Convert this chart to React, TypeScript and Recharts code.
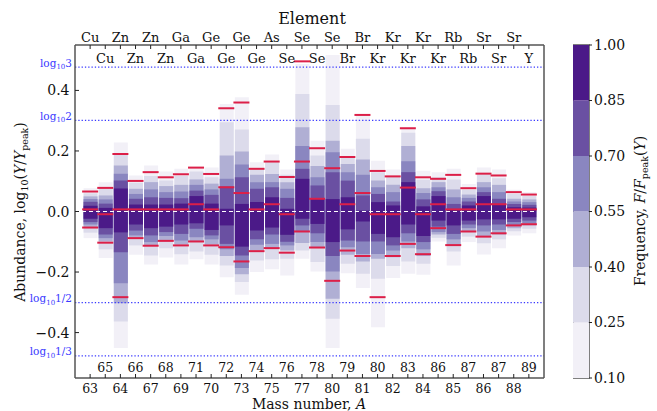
// App.tsx
// Abundance spread per isotope, banded by frequency, with element / mass axes and a colorbar.
import {
  ComposedChart, Bar, Scatter, XAxis, YAxis, ReferenceLine, ReferenceArea,
} from "recharts";

const FONT = '"DejaVu Serif", "Liberation Serif", serif';
const FRAME = "#555";
const RED = "#dc1f48";

const masses = [63, 65, 64, 66, 67, 68, 69, 71, 70, 72, 73, 74, 75, 76, 77, 78, 80, 79, 81, 80, 82, 83, 84, 86, 85, 87, 86, 87, 88, 89];
const elements = ["Cu", "Cu", "Zn", "Zn", "Zn", "Zn", "Ga", "Ga", "Ge", "Ge", "Ge", "Ge", "As", "Se", "Se", "Se", "Se", "Br", "Br", "Kr", "Kr", "Kr", "Kr", "Kr", "Rb", "Rb", "Sr", "Sr", "Sr", "Y"];
const yTicks = [-0.4, -0.2, 0, 0.2, 0.4];

// upper / lower edge of each frequency band (F/Fpeak >= level)
const upper10 = [0.077, 0.097, 0.228, 0.119, 0.152, 0.132, 0.141, 0.147, 0.145, 0.355, 0.377, 0.163, 0.188, 0.139, 0.487, 0.234, 0.517, 0.207, 0.319, 0.168, 0.139, 0.278, 0.135, 0.130, 0.141, 0.091, 0.145, 0.139, 0.072, 0.064];
const upper25 = [0.060, 0.077, 0.190, 0.095, 0.117, 0.102, 0.117, 0.132, 0.113, 0.295, 0.271, 0.143, 0.163, 0.121, 0.388, 0.185, 0.352, 0.179, 0.240, 0.130, 0.117, 0.260, 0.105, 0.113, 0.106, 0.072, 0.127, 0.110, 0.058, 0.051];
const upper40 = [0.050, 0.053, 0.152, 0.075, 0.097, 0.084, 0.088, 0.106, 0.092, 0.185, 0.198, 0.121, 0.124, 0.097, 0.278, 0.150, 0.234, 0.157, 0.172, 0.102, 0.088, 0.216, 0.077, 0.097, 0.073, 0.056, 0.097, 0.088, 0.042, 0.040];
const upper55 = [0.041, 0.040, 0.125, 0.058, 0.073, 0.064, 0.066, 0.088, 0.073, 0.108, 0.155, 0.097, 0.097, 0.075, 0.216, 0.113, 0.196, 0.130, 0.121, 0.080, 0.064, 0.166, 0.061, 0.080, 0.047, 0.045, 0.080, 0.064, 0.033, 0.031];
const upper70 = [0.032, 0.026, 0.102, 0.042, 0.047, 0.045, 0.044, 0.069, 0.055, 0.083, 0.113, 0.075, 0.080, 0.045, 0.141, 0.086, 0.130, 0.102, 0.053, 0.058, 0.033, 0.130, 0.040, 0.067, 0.025, 0.033, 0.064, 0.042, 0.025, 0.022];
const upper85 = [0.019, 0.012, 0.076, 0.023, 0.023, 0.023, 0.026, 0.051, 0.026, 0.009, 0.025, 0.031, 0.047, 0.009, 0.108, 0.042, 0.041, 0.047, 0.003, 0.031, 0.020, 0.097, 0.017, 0.051, 0.007, 0.020, 0.051, 0.025, 0.014, 0.013];
const lower85 = [-0.024, -0.055, -0.069, -0.043, -0.055, -0.050, -0.043, -0.039, -0.061, -0.046, -0.116, -0.063, -0.053, -0.077, -0.024, -0.041, -0.101, -0.059, -0.033, -0.074, -0.085, -0.043, -0.081, -0.030, -0.046, -0.030, -0.026, -0.026, -0.024, -0.019];
const lower70 = [-0.035, -0.076, -0.135, -0.063, -0.079, -0.068, -0.074, -0.057, -0.079, -0.107, -0.145, -0.092, -0.076, -0.100, -0.046, -0.072, -0.147, -0.096, -0.099, -0.099, -0.112, -0.072, -0.101, -0.050, -0.074, -0.043, -0.046, -0.043, -0.035, -0.030];
const lower55 = [-0.043, -0.088, -0.237, -0.079, -0.101, -0.081, -0.096, -0.085, -0.092, -0.125, -0.187, -0.110, -0.107, -0.112, -0.068, -0.101, -0.198, -0.118, -0.140, -0.140, -0.129, -0.099, -0.125, -0.068, -0.092, -0.055, -0.066, -0.061, -0.046, -0.039];
const lower40 = [-0.052, -0.099, -0.303, -0.090, -0.112, -0.096, -0.109, -0.098, -0.109, -0.147, -0.207, -0.129, -0.120, -0.129, -0.104, -0.118, -0.288, -0.143, -0.165, -0.156, -0.151, -0.121, -0.147, -0.076, -0.110, -0.068, -0.081, -0.076, -0.055, -0.046];
const lower25 = [-0.070, -0.125, -0.363, -0.112, -0.145, -0.121, -0.141, -0.132, -0.143, -0.178, -0.233, -0.162, -0.158, -0.156, -0.129, -0.167, -0.354, -0.173, -0.206, -0.222, -0.180, -0.165, -0.173, -0.087, -0.132, -0.083, -0.105, -0.092, -0.065, -0.057];
const lower10 = [-0.088, -0.154, -0.451, -0.143, -0.175, -0.152, -0.175, -0.158, -0.175, -0.217, -0.275, -0.200, -0.191, -0.211, -0.156, -0.198, -0.451, -0.204, -0.253, -0.382, -0.220, -0.206, -0.209, -0.099, -0.178, -0.101, -0.142, -0.121, -0.079, -0.072];

// red markers
const redUpper = [0.066, 0.078, 0.190, 0.101, 0.130, 0.113, 0.123, 0.145, 0.124, 0.341, 0.360, 0.141, 0.165, 0.114, 0.496, 0.209, 0.143, 0.180, 0.319, 0.134, 0.116, 0.275, 0.113, 0.108, 0.121, 0.077, 0.125, 0.119, 0.064, 0.056];
const redMiddle = [0.007, -0.009, 0.007, 0.007, 0.007, 0.007, 0.007, 0.024, 0.007, 0.080, 0.061, 0.007, 0.024, -0.009, 0.165, 0.042, null, 0.024, 0.061, -0.009, -0.009, 0.079, -0.009, 0.024, 0.007, 0.007, 0.024, 0.024, 0.007, 0.007];
const redLower = [-0.053, -0.103, -0.283, -0.088, -0.113, -0.097, -0.112, -0.099, -0.112, -0.118, -0.165, -0.131, -0.121, -0.136, -0.066, -0.119, -0.229, -0.129, -0.147, -0.283, -0.147, -0.107, -0.141, -0.055, -0.111, -0.066, -0.083, -0.072, -0.046, -0.042];

const cbLevels = [0.10, 0.25, 0.40, 0.55, 0.70, 0.85, 1.00];
const LEVEL_COLORS = ["#f2f0f7", "#dcdbeb", "#b0afd4", "#8a86c0", "#6a50a2", "#4b1a88"];

const guides = [
  { v: Math.log10(3), num: "3" },
  { v: Math.log10(2), num: "2" },
  { v: Math.log10(1 / 2), num: "1/2" },
  { v: Math.log10(1 / 3), num: "1/3" },
];

const uppers = [upper10, upper25, upper40, upper55, upper70, upper85];
const lowers = [lower10, lower25, lower40, lower55, lower70, lower85];
const cols = masses.map((_, i) => i);

const rows = cols.map((i) => {
  const row: Record<string, any> = { i };
  uppers.forEach((u, k) => { row[`b${k}`] = [lowers[k][i], u[i]]; });
  return row;
});

const toPts = (arr: (number | null)[]) =>
  arr.map((v, i) => ({ i, v })).filter((p) => p.v !== null);

const cbRow = [
  cbLevels.slice(1).reduce(
    (acc: Record<string, any>, lv, k) => ({ ...acc, [`s${k}`]: lv - cbLevels[k] }),
    { name: "F", base: cbLevels[0] },
  ),
];

function MassTick({ x, y, payload }: any) {
  const i = payload.value;
  const inner = i % 2 === 1;
  return (
    <g>
      <line x1={x} x2={x} y1={y} y2={y - 4} stroke="#222" />
      <text x={x} y={inner ? y - 6 : y + 15} textAnchor="middle" fontSize={12.5} fontFamily={FONT} fill="#111">
        {masses[i]}
      </text>
    </g>
  );
}

function ElementTick({ x, y, payload }: any) {
  const i = payload.value;
  const inner = i % 2 === 1;
  return (
    <g>
      <line x1={x} x2={x} y1={y} y2={y + 4} stroke="#222" />
      <text x={x} y={inner ? y + 18 : y - 3} textAnchor="middle" fontSize={13} fontFamily={FONT} fill="#111">
        {elements[i]}
      </text>
    </g>
  );
}

function LeftTick({ x, y, payload }: any) {
  const v = payload.value;
  const txt = (v < 0 ? "\u2212" : "") + Math.abs(v).toFixed(1);
  return (
    <g>
      <line x1={x} x2={x + 4} y1={y} y2={y} stroke="#222" />
      <text x={x - 5.5} y={y + 5} textAnchor="end" fontSize={14} fontFamily={FONT} fill="#111">{txt}</text>
    </g>
  );
}

function RightTick({ x, y }: any) {
  return <line x1={x} x2={x - 4} y1={y} y2={y} stroke="#222" />;
}

const guideLabel = (num: string) => (props: any) => {
  const { viewBox } = props;
  return (
    <text x={viewBox.x - 3} y={viewBox.y - 0.5} textAnchor="end" fontSize={10.5} fontFamily={FONT} fill="#3a3aff">
      log<tspan fontSize={7} dy={2.5}>10</tspan><tspan dy={-2.5}>{num}</tspan>
    </text>
  );
};

const redDash = (p: any) => (
  <line x1={p.cx - 8} x2={p.cx + 8} y1={p.cy} y2={p.cy} stroke={RED} strokeWidth={2} />
);

function MainChart() {
  return (
    <ComposedChart width={657} height={411} data={rows} margin={{ top: 0, right: 0, bottom: 0, left: 0 }}>
      <XAxis
        xAxisId={0} dataKey="i" type="number" domain={[-1, 30]} ticks={cols} interval={0}
        orientation="bottom" height={33} tickSize={0} tickMargin={0} tickLine={false}
        axisLine={{ stroke: FRAME, strokeWidth: 1.5 }} tick={<MassTick />}
      />
      <XAxis
        xAxisId="top" dataKey="i" type="number" domain={[-1, 30]} ticks={cols} interval={0}
        orientation="top" height={45} tickSize={0} tickMargin={0} tickLine={false}
        axisLine={{ stroke: FRAME, strokeWidth: 1.5 }} tick={<ElementTick />}
      />
      {LEVEL_COLORS.map((_, k) => (
        <XAxis key={k} xAxisId={`b${k}`} dataKey="i" type="number" domain={[-1, 30]} hide />
      ))}
      <YAxis
        yAxisId={0} type="number" domain={[-0.55, 0.55]} ticks={yTicks} interval={0} width={75}
        tickSize={0} tickMargin={0} tickLine={false} axisLine={{ stroke: FRAME, strokeWidth: 1.5 }}
        tick={<LeftTick />}
      />
      <YAxis
        yAxisId="r" orientation="right" type="number" domain={[-0.55, 0.55]} ticks={yTicks} interval={0}
        width={113} tickSize={0} tickMargin={0} tickLine={false}
        axisLine={{ stroke: FRAME, strokeWidth: 1.5 }} tick={<RightTick />}
      />
      {LEVEL_COLORS.map((c, k) => (
        <Bar key={k} xAxisId={`b${k}`} dataKey={`b${k}`} fill={c} barSize={14} isAnimationActive={false} />
      ))}
      <ReferenceLine y={0} stroke="#fff" strokeWidth={1.2} strokeDasharray="4 3" />
      {guides.map((g) => (
        <ReferenceLine
          key={g.num} y={g.v} stroke="#3a3aff" strokeWidth={1.3} strokeDasharray="1.3 2"
          label={guideLabel(g.num)}
        />
      ))}
      <Scatter data={toPts(redUpper)} dataKey="v" shape={redDash} isAnimationActive={false} />
      <Scatter data={toPts(redMiddle)} dataKey="v" shape={redDash} isAnimationActive={false} />
      <Scatter data={toPts(redLower)} dataKey="v" shape={redDash} isAnimationActive={false} />
    </ComposedChart>
  );
}

function ColorBar() {
  return (
    <ComposedChart
      width={84} height={411} data={cbRow} barCategoryGap={0}
      margin={{ top: 45, right: 0, bottom: 33, left: 0 }}
    >
      <XAxis dataKey="name" hide />
      <YAxis
        orientation="right" type="number" domain={[0.1, 1]} ticks={cbLevels} interval={0}
        allowDataOverflow width={68} axisLine={false} tickSize={3} tickMargin={2}
        tickLine={{ stroke: "#222" }} tickFormatter={(v: number) => v.toFixed(2)}
        tick={{ fontSize: 14, fontFamily: FONT, fill: "#111" }}
      />
      <Bar dataKey="base" stackId="c" fill="none" isAnimationActive={false} />
      {LEVEL_COLORS.map((c, k) => (
        <Bar key={k} dataKey={`s${k}`} stackId="c" fill={c} isAnimationActive={false} />
      ))}
      <ReferenceArea y1={0.1} y2={1} fill="none" stroke={FRAME} strokeWidth={1.5} ifOverflow="visible" />
    </ComposedChart>
  );
}

export default function App() {
  return (
    <div style={{ position: "absolute", left: 0, top: 0, width: 657, height: 411, background: "#fff" }}>
      <div style={{ position: "absolute", left: 0, top: 0 }}>
        <MainChart />
      </div>
      <div style={{ position: "absolute", left: 573, top: 0 }}>
        <ColorBar />
      </div>
      <svg width={657} height={411} style={{ position: "absolute", left: 0, top: 0, pointerEvents: "none" }}>
        <g fontFamily={FONT} fill="#111">
          <text x={312} y={24} textAnchor="middle" fontSize={16}>Element</text>
          <text x={309} y={409} textAnchor="middle" fontSize={14}>
            Mass number, <tspan fontStyle="italic">A</tspan>
          </text>
          <text transform="translate(25,212) rotate(-90)" textAnchor="middle" fontSize={14}>
            Abundance, log<tspan fontSize={9.5} dy={3}>10</tspan>
            <tspan dy={-3}>(</tspan><tspan fontStyle="italic">Y</tspan>/<tspan fontStyle="italic">Y</tspan>
            <tspan fontSize={9.5} dy={3}>peak</tspan><tspan dy={-3}>)</tspan>
          </text>
          <text transform="translate(645,211) rotate(-90)" textAnchor="middle" fontSize={14}>
            Frequency, <tspan fontStyle="italic">F</tspan>/<tspan fontStyle="italic">F</tspan>
            <tspan fontSize={9.5} dy={3}>peak</tspan><tspan dy={-3}>(</tspan>
            <tspan fontStyle="italic">Y</tspan>)
          </text>
        </g>
      </svg>
    </div>
  );
}
